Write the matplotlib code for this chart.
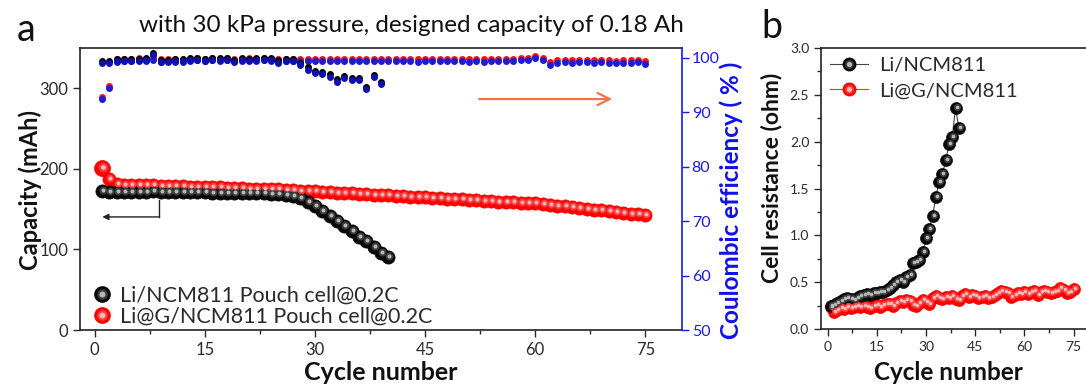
import numpy as np
import matplotlib
matplotlib.use("Agg")
import matplotlib.pyplot as plt
import matplotlib.transforms as mtransforms
from matplotlib.lines import Line2D
from matplotlib.ticker import MultipleLocator

plt.rcParams['font.family'] = ['Lato', 'DejaVu Sans']

# --- datos ---
cyc_li = np.arange(1, 41)
cyc_g = np.arange(1, 76)
cyc_ce_li = np.arange(1, 40)

cap_li = [172, 171.5, 171.5, 171.5, 171.5, 171.5, 171.5, 172, 171.5, 171.5,
          171, 171, 171, 171, 171, 170.5, 170.5, 170.5, 170, 170,
          170, 169.5, 169.5, 169, 168.5, 168, 166.5, 163.5, 159, 153.5,
          147.5, 141.5, 135.5, 129, 122.5, 116, 110, 103.5, 96, 91]

cap_g = [200.5, 187, 181, 180.5, 180, 180, 179.5, 179.5, 179, 179,
         178.5, 178.5, 178, 178, 177.5, 177.5, 177, 176.5, 176.5, 176,
         175.5, 175.5, 175, 174.5, 174.5, 174, 173.5, 173, 172.5, 172,
         171.5, 171, 170.5, 170, 169.5, 169, 168.5, 168, 167.5, 167,
         166.5, 166, 165.5, 165, 164.5, 164, 163.5, 163, 162.5, 162,
         161.5, 161, 160.5, 160, 159.5, 159, 158.5, 158, 157.5, 157.5,
         156.5, 155.5, 154.5, 153.5, 152.5, 151.5, 150.5, 149.5, 148.5, 147.5,
         146.5, 145.5, 144.5, 143.5, 142.5]

ce_li = [99.2, 99.2, 99.6, 99.6, 99.6, 99.6, 99.7, 100.7, 99.45, 99.45,
         99.6, 99.6, 99.7, 99.7, 99.6, 99.7, 99.7, 99.7, 99.45, 99.7,
         99.6, 99.7, 99.7, 99.7, 99.3, 99.6, 99.6, 98.8, 98.0, 97.4,
         97.2, 96.7, 95.8, 96.4, 96.1, 96.1, 94.4, 96.6, 95.3]

ce_g = [92.6, 94.6, 99.5, 99.6, 99.6, 99.7, 99.6, 99.7, 99.5, 99.6,
        99.5, 99.4, 99.6, 99.7, 99.6, 99.8, 99.6, 99.7, 99.6, 99.6,
        99.7, 99.6, 99.8, 99.6, 99.5, 99.6, 99.6, 99.6, 99.6, 99.6,
        99.6, 99.6, 99.6, 99.6, 99.6, 99.6, 99.6, 99.6, 99.6, 99.6,
        99.6, 99.6, 99.6, 99.5, 99.6, 99.6, 99.6, 99.6, 99.6, 99.6,
        99.5, 99.6, 99.5, 99.6, 99.6, 99.6, 99.6, 99.7, 99.8, 100.1,
        99.8, 98.9, 99.3, 99.4, 99.3, 99.4, 99.4, 99.3, 99.4, 99.3,
        99.2, 99.3, 99.3, 99.4, 99.1]

res_li = [0.25, 0.26, 0.28, 0.30, 0.32, 0.33, 0.32, 0.31, 0.33, 0.35,
          0.36, 0.37, 0.36, 0.38, 0.38, 0.39, 0.40, 0.42, 0.44, 0.47,
          0.50, 0.52, 0.50, 0.55, 0.58, 0.70, 0.72, 0.74, 0.82, 0.97,
          1.07, 1.21, 1.41, 1.57, 1.65, 1.80, 1.97, 2.05, 2.36, 2.15]

res_g = [0.24, 0.18, 0.20, 0.22, 0.21, 0.23, 0.22, 0.24, 0.25, 0.23,
         0.25, 0.24, 0.22, 0.25, 0.26, 0.24, 0.26, 0.27, 0.27, 0.25,
         0.28, 0.30, 0.29, 0.31, 0.30, 0.26, 0.25, 0.28, 0.31, 0.29,
         0.27, 0.33, 0.35, 0.33, 0.32, 0.34, 0.33, 0.35, 0.32, 0.31,
         0.35, 0.37, 0.34, 0.36, 0.35, 0.33, 0.34, 0.35, 0.33, 0.34,
         0.36, 0.38, 0.41, 0.40, 0.38, 0.34, 0.36, 0.38, 0.37, 0.40,
         0.37, 0.40, 0.41, 0.36, 0.39, 0.41, 0.40, 0.38, 0.39, 0.41,
         0.44, 0.42, 0.38, 0.40, 0.43]

lab_li_a = 'Li/NCM811 Pouch cell@0.2C'
lab_g_a = 'Li@G/NCM811 Pouch cell@0.2C'
lab_li_b = 'Li/NCM811'
lab_g_b = 'Li@G/NCM811'

BLUE = '#1c1cd8'
TXT = '#2a2a2a'
NEGRO = ('#080808', '#3c3c3c', '#b8b8b8')
ROJO = ('#ff0000', '#ff3a3a', '#ffb8b8')

fig = plt.figure(figsize=(10.86, 3.9), dpi=100)
axa = fig.add_axes([0.0737, 0.1538, 0.5543, 0.7231])
axa2 = axa.twinx()
axb = fig.add_axes([0.756, 0.1564, 0.2477, 0.7205])


def esferas(ax, x, y, col, ms, linea=None):
    # bolitas con brillo, imitando el estilo 3D de Origin
    base, mid, luz = col
    if linea:
        ax.plot(x, y, '-', color=linea, lw=0.8, zorder=2)
    ax.plot(x, y, 'o', ls='none', color=base, ms=ms, mec=base, mew=0.5, zorder=3)
    off = mtransforms.offset_copy(ax.transData, fig=fig, x=1, y=1, units='dots')
    ax.plot(x, y, 'o', ls='none', color=mid, ms=ms * 0.6, mew=0,
            transform=off, zorder=4)
    ax.plot(x, y, 'o', ls='none', color=luz, ms=ms * 0.3, mew=0,
            transform=off, zorder=5)


def handle(col, ms, linea=None):
    base, mid, luz = col
    hs = []
    if linea:
        hs.append(Line2D([], [], color=linea, lw=0.8))
    hs.append(Line2D([], [], ls='none', marker='o', color=base, ms=ms))
    hs.append(Line2D([], [], ls='none', marker='o', color=mid, ms=ms * 0.6))
    hs.append(Line2D([], [], ls='none', marker='o', color=luz, ms=ms * 0.3))
    return tuple(hs)


# ---- panel a ----
esferas(axa, cyc_g[:1], cap_g[:1], ROJO, 11.5)
esferas(axa, cyc_g[1:], cap_g[1:], ROJO, 9.5)
esferas(axa, cyc_li, cap_li, NEGRO, 9.5)

up = mtransforms.offset_copy(axa2.transData, fig=fig, x=0, y=1.3, units='dots')
dn = mtransforms.offset_copy(axa2.transData, fig=fig, x=0, y=-1.0, units='dots')
axa2.plot(cyc_g, ce_g, 'o', ls='none', color='#ff1010', ms=5, mew=0, transform=up)
axa2.plot(cyc_g, ce_g, 'o', ls='none', color=BLUE, ms=5, mew=0, transform=dn)
axa2.plot(cyc_ce_li, ce_li, 'o', ls='none', color='#000000', ms=5, mew=0, transform=up)
axa2.plot(cyc_ce_li, ce_li, 'o', ls='none', color='#1010b0', ms=5, mew=0, transform=dn)

axa.set_xlim(-2, 80)
axa.set_ylim(0, 350)
axa.set_yticks([0, 100, 200, 300])
axa.xaxis.set_major_locator(MultipleLocator(15))
axa.xaxis.set_minor_locator(MultipleLocator(7.5))
axa.tick_params(axis='both', which='major', labelsize=12, colors=TXT, length=5, width=1)
axa.tick_params(axis='x', which='minor', length=3, width=1, colors=TXT)
axa2.set_ylim(50, 101.8)
axa2.set_yticks([50, 60, 70, 80, 90, 100])
axa2.tick_params(axis='y', labelsize=11.5, colors=BLUE, length=5, width=1, pad=2)
for s in ['left', 'top', 'bottom']:
    axa2.spines[s].set_visible(False)
axa.spines['right'].set_visible(False)
axa2.spines['right'].set_color(BLUE)
axa2.spines['right'].set_linewidth(1.2)
for s in ['left', 'top', 'bottom']:
    axa.spines[s].set_linewidth(1.2)
    axa.spines[s].set_color('#222222')

leg = axa.legend([handle(NEGRO, 11), handle(ROJO, 11)],
                 [lab_li_a, lab_g_a], loc='lower left', frameon=False,
                 fontsize=15.5, handlelength=0.8, handletextpad=0.45,
                 labelspacing=0.05, borderaxespad=0.0, borderpad=0.15,
                 bbox_to_anchor=(0.017, 0.0))
for t in leg.get_texts():
    t.set_color(TXT)

# flechas
axa.annotate('', xy=(0.037, 0.401), xytext=(0.131, 0.401), xycoords='axes fraction',
             arrowprops=dict(arrowstyle='-|>', color='#222222', lw=1, mutation_scale=9,
                             shrinkA=0, shrinkB=0))
axa.plot([0.131, 0.131], [0.401, 0.461], color='#222222', lw=1, transform=axa.transAxes)
axa2.annotate('', xy=(0.884, 0.819), xytext=(0.663, 0.819), xycoords='axes fraction',
              arrowprops=dict(arrowstyle='->', color='#ee7548', lw=1.6, mutation_scale=22,
                              shrinkA=0, shrinkB=0))

# ---- panel b ----
esferas(axb, cyc_g, res_g, ROJO, 8.6, linea='#ff3030')
esferas(axb, cyc_li, res_li, NEGRO, 8.6, linea='#444444')
axb.set_xlim(-2, 80)
axb.set_ylim(0, 3)
axb.xaxis.set_major_locator(MultipleLocator(15))
axb.xaxis.set_minor_locator(MultipleLocator(7.5))
axb.yaxis.set_major_locator(MultipleLocator(0.5))
axb.yaxis.set_minor_locator(MultipleLocator(0.25))
axb.tick_params(axis='both', which='major', labelsize=10, colors=TXT, length=5, width=1)
axb.tick_params(axis='both', which='minor', length=3, width=1, colors=TXT)
for s in axb.spines.values():
    s.set_linewidth(1.2)
    s.set_color('#222222')
legb = axb.legend([handle(NEGRO, 9, linea='#444444'),
                   handle(ROJO, 9, linea='#ff3030')],
                  [lab_li_b, lab_g_b], loc='upper left', frameon=False,
                  fontsize=14.5, handlelength=1.9, handletextpad=0.55,
                  labelspacing=0.4, borderaxespad=0.0, borderpad=0.45)
for t in legb.get_texts():
    t.set_color(TXT)

# ---- textos ----
fig.text(0.379, 0.934, 'with 30 kPa pressure, designed capacity of 0.18 Ah',
         ha='center', va='center', fontsize=17.5, color='#111111')
fig.text(26 / 1086, 1 - 30 / 390, 'a', ha='center', va='center', fontsize=27, color='#111111')
fig.text(772 / 1086, 1 - 27 / 390, 'b', ha='center', va='center', fontsize=27, color='#111111')
fig.text(30 / 1086, 1 - 190 / 390, 'Capacity (mAh)', rotation=90, ha='center', va='center',
         fontsize=17, fontweight='bold', color='#111111')
fig.text(731 / 1086, 1 - 200 / 390, 'Coulombic efficiency ( % )', rotation=90, ha='center',
         va='center', fontsize=17.5, fontweight='bold', color='#1010ee')
fig.text(381 / 1086, 1 - 373 / 390, 'Cycle number', ha='center', va='center',
         fontsize=18, fontweight='bold', color='#111111')
fig.text(948 / 1086, 1 - 373 / 390, 'Cycle number', ha='center', va='center',
         fontsize=17.5, fontweight='bold', color='#111111')
fig.text(771 / 1086, 1 - 178 / 390, 'Cell resistance (ohm)', rotation=90, ha='center',
         va='center', fontsize=16.5, fontweight='bold', color='#111111')

fig.savefig('out.png', dpi=100)
